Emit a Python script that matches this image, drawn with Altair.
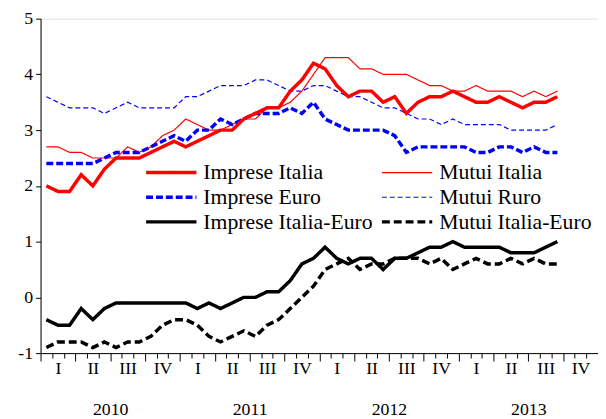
import altair as alt
import pandas as pd

# ---------------- data (monthly, Jan 2010 - Sep 2013) ----------------
series_names = ["Imprese Italia", "Mutui Italia", "Imprese Euro",
                "Mutui Ruro", "Imprese Italia-Euro", "Mutui Italia-Euro"]

imprese_italia = [2.0, 1.9, 1.9, 2.2, 2.0, 2.3, 2.5, 2.5, 2.5, 2.6, 2.7, 2.8,
                  2.7, 2.8, 2.9, 3.0, 3.0, 3.2, 3.3, 3.4, 3.4, 3.7, 3.9, 4.2,
                  4.1, 3.8, 3.6, 3.7, 3.7, 3.5, 3.6, 3.3, 3.5, 3.6, 3.6, 3.7,
                  3.6, 3.5, 3.5, 3.6, 3.5, 3.4, 3.5, 3.5, 3.6]
mutui_italia = [2.7, 2.7, 2.6, 2.6, 2.5, 2.5, 2.5, 2.7, 2.6, 2.7, 2.9, 3.0,
                3.2, 3.1, 3.0, 3.0, 3.1, 3.2, 3.2, 3.4, 3.4, 3.5, 3.7, 4.0,
                4.3, 4.3, 4.3, 4.1, 4.1, 4.0, 4.0, 4.0, 3.9, 3.8, 3.8, 3.7,
                3.7, 3.8, 3.7, 3.7, 3.7, 3.6, 3.7, 3.6, 3.7]
imprese_euro = [2.4, 2.4, 2.4, 2.4, 2.4, 2.5, 2.6, 2.6, 2.6, 2.7, 2.8, 2.9,
                2.8, 3.0, 3.0, 3.2, 3.1, 3.2, 3.3, 3.3, 3.3, 3.4, 3.3, 3.5,
                3.2, 3.1, 3.0, 3.0, 3.0, 3.0, 2.9, 2.6, 2.7, 2.7, 2.7, 2.7,
                2.7, 2.6, 2.6, 2.7, 2.7, 2.6, 2.7, 2.6, 2.6]
mutui_euro = [3.6, 3.5, 3.4, 3.4, 3.4, 3.3, 3.4, 3.5, 3.4, 3.4, 3.4, 3.4,
              3.6, 3.6, 3.7, 3.8, 3.8, 3.8, 3.9, 3.9, 3.8, 3.7, 3.7, 3.8,
              3.8, 3.7, 3.6, 3.6, 3.5, 3.4, 3.4, 3.3, 3.2, 3.2, 3.1, 3.2,
              3.1, 3.1, 3.1, 3.1, 3.0, 3.0, 3.0, 3.0, 3.1]
imprese_diff = [-0.4, -0.5, -0.5, -0.2, -0.4, -0.2, -0.1, -0.1, -0.1, -0.1, -0.1, -0.1,
                -0.1, -0.2, -0.1, -0.2, -0.1, 0.0, 0.0, 0.1, 0.1, 0.3, 0.6, 0.7,
                0.9, 0.7, 0.6, 0.7, 0.7, 0.5, 0.7, 0.7, 0.8, 0.9, 0.9, 1.0,
                0.9, 0.9, 0.9, 0.9, 0.8, 0.8, 0.8, 0.9, 1.0]
mutui_diff = [-0.9, -0.8, -0.8, -0.8, -0.9, -0.8, -0.9, -0.8, -0.8, -0.7, -0.5, -0.4,
              -0.4, -0.5, -0.7, -0.8, -0.7, -0.6, -0.7, -0.5, -0.4, -0.2, 0.0, 0.2,
              0.5, 0.6, 0.7, 0.5, 0.6, 0.6, 0.7, 0.7, 0.7, 0.6, 0.7, 0.5,
              0.6, 0.7, 0.6, 0.6, 0.7, 0.6, 0.7, 0.6, 0.6]

quarter_labels = ["I", "II", "III", "IV"]
year_labels = ["2010", "2011", "2012", "2013"]
y_ticks = [-1, 0, 1, 2, 3, 4, 5]

all_values = [imprese_italia, mutui_italia, imprese_euro, mutui_euro, imprese_diff, mutui_diff]

rows = []
for name, vals in zip(series_names, all_values):
    for i, v in enumerate(vals):
        rows.append({"t": i + 0.5, "v": v, "series": name})
df = pd.DataFrame(rows)

# ---------------- styles ----------------
styles = {
    "Imprese Italia":      dict(color="#FF0000", strokeWidth=3.5, strokeDash=[1, 0]),
    "Mutui Italia":        dict(color="#FF0000", strokeWidth=1.2, strokeDash=[1, 0]),
    "Imprese Euro":        dict(color="#0000FF", strokeWidth=3.5, strokeDash=[7, 3]),
    "Mutui Ruro":          dict(color="#0000FF", strokeWidth=1.2, strokeDash=[5, 3]),
    "Imprese Italia-Euro": dict(color="#000000", strokeWidth=3.5, strokeDash=[1, 0]),
    "Mutui Italia-Euro":   dict(color="#000000", strokeWidth=3.5, strokeDash=[8, 4]),
}
draw_order = ["Mutui Ruro", "Mutui Italia", "Imprese Euro", "Imprese Italia",
              "Mutui Italia-Euro", "Imprese Italia-Euro"]

FONT = "Liberation Serif"

x_scale = alt.Scale(domain=[0, 48], nice=False, zero=False)
y_scale = alt.Scale(domain=[-1, 5], nice=False, zero=False)

q_arr = "[" + ",".join("'%s'" % q for q in quarter_labels) + "]"
y_arr = "[" + ",".join("'%s'" % y for y in year_labels) + "]"
label_expr = (
    "datum.value % 3 == 1.5 ? " + q_arr + "[floor(datum.value / 3) % 4] : "
    "(datum.value % 12 == 6 ? ['', " + y_arr + "[floor(datum.value / 12)]] : '')"
)

x_axis = alt.Axis(
    values=[k / 2 for k in range(97)],
    title=None, grid=False,
    domainColor="black", tickColor="black",
    tickOpacity={"condition": {"test": "datum.value % 1 == 0", "value": 1}, "value": 0},
    tickSize={"condition": {"test": "datum.value % 3 == 0", "value": 8}, "value": 5},
    labelExpr=label_expr, labelOverlap=False, labelFlush=False,
    labelFont=FONT, labelFontSize=18, labelColor="black",
    labelBaseline="top",
    labelPadding=2, labelLineHeight=38,
)
y_axis = alt.Axis(
    values=y_ticks, title=None, grid=False,
    domainColor="black", tickColor="black", tickSize=5,
    labelExpr="'' + datum.value",
    labelFont=FONT, labelFontSize=18, labelColor="black", labelPadding=3,
)

layers = []
for name in draw_order:
    st = styles[name]
    layers.append(
        alt.Chart(df).transform_filter(alt.datum.series == name)
        .mark_line(color=st["color"], strokeWidth=st["strokeWidth"], strokeDash=st["strokeDash"])
        .encode(x=alt.X("t:Q", scale=x_scale, axis=x_axis),
                y=alt.Y("v:Q", scale=y_scale, axis=y_axis))
    )

# ---------------- legend (two columns, three rows) ----------------
legend_sym_x = [107, 346]
legend_sym_len = 51
legend_text_dx = 58
legend_row_y = [156, 181, 206]
for k, name in enumerate(series_names):
    col, row = k % 2, k // 2
    st = styles[name]
    x0 = legend_sym_x[col]
    yy = legend_row_y[row]
    one = pd.DataFrame({"series": [name]})
    layers.append(
        alt.Chart(one).mark_rule(color=st["color"], strokeWidth=st["strokeWidth"],
                                 strokeDash=st["strokeDash"])
        .encode(x=alt.value(x0), x2=alt.value(x0 + legend_sym_len), y=alt.value(yy))
    )
    layers.append(
        alt.Chart(one).mark_text(align="left", baseline="middle", font=FONT,
                                 fontSize=22, color="black")
        .encode(text="series:N", x=alt.value(x0 + legend_text_dx), y=alt.value(yy))
    )

chart = (
    alt.layer(*layers)
    .properties(width=565, height=339,
                autosize=alt.AutoSizeParams(type="none"),
                padding={"left": 33, "top": 8, "right": 0, "bottom": 64})
    .configure_view(stroke="black", strokeWidth=1)
    .configure(background="white")
)

chart.save("out.html", embed_options={"renderer": "svg", "actions": False})
